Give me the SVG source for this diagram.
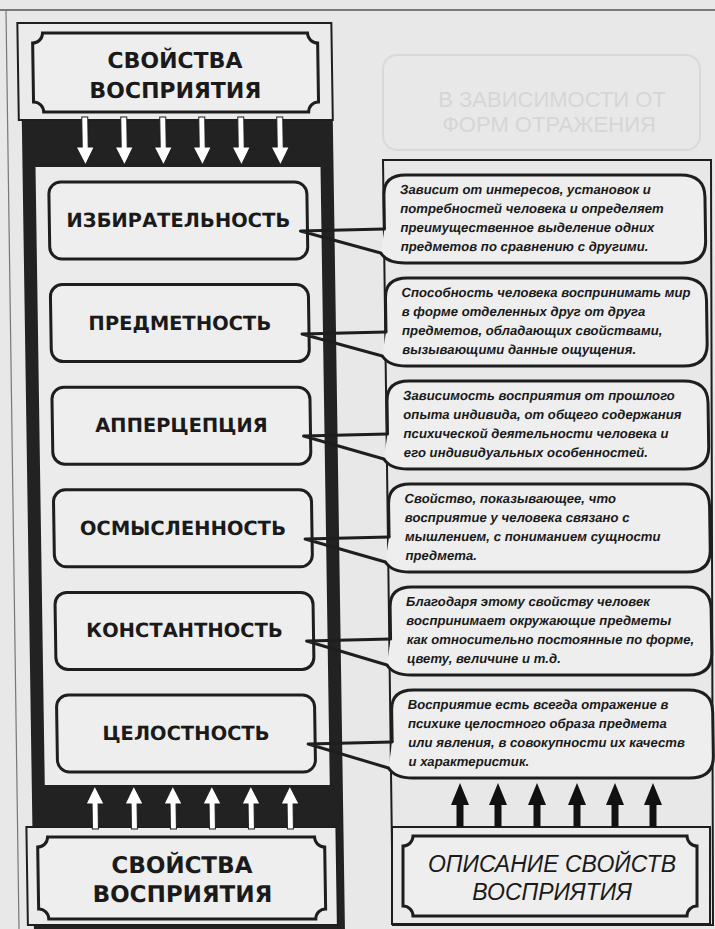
<svg xmlns="http://www.w3.org/2000/svg" width="715" height="929" viewBox="0 0 715 929">
<style>
.ln{fill:none;stroke:#1e1e1e;stroke-width:3;stroke-linejoin:round;stroke-linecap:round}
.box{fill:#eeeeee;stroke:#1e1e1e;stroke-width:3}
.outer{fill:#ebebeb;stroke:#1e1e1e;stroke-width:2}
.bub{fill:#eeeeee;stroke:#1e1e1e;stroke-width:3;stroke-linejoin:round}
.title{font-family:"DejaVu Sans","Liberation Sans",sans-serif;font-weight:bold;font-size:22px;fill:#1a1a1a;text-anchor:middle}
.lbl{font-family:"DejaVu Sans","Liberation Sans",sans-serif;font-weight:bold;font-size:19.5px;fill:#1a1a1a;text-anchor:middle}
.desc{font-family:"Liberation Sans",Arial,sans-serif;font-style:italic;font-weight:bold;font-size:13.2px;fill:#1a1a1a}
.ital{font-family:"Liberation Sans",Arial,sans-serif;font-style:italic;font-size:23px;fill:#1a1a1a;text-anchor:middle}
.ghost{font-family:"Liberation Sans",Arial,sans-serif;font-size:22px;fill:#d6d6d6;text-anchor:middle}
.wa{fill:#ffffff;stroke:#1e1e1e;stroke-width:1}
.ba{fill:#111111}
</style>
<defs>
<path id="arrow-down" d="M-3,0 H3 V30 H9 L0,48 L-9,30 H-3 Z"/>
<path id="arrow-up" d="M-3,0 H3 V-25 H9 L0,-43 L-9,-25 H-3 Z"/>
<path id="arrow-up-black" d="M-3.5,0 H3.5 V-22 H9 L0,-44 L-9,-22 H-3.5 Z"/>
</defs>
<rect x="0" y="0" width="715" height="929" fill="#e8e8e8"/>
<g id="page-lines">
<line x1="0" y1="10" x2="715" y2="10" stroke="#555" stroke-width="1.5"/>
<line x1="6" y1="10" x2="19" y2="929" stroke="#777" stroke-width="1.2"/>
</g>
<g id="ghost">
<rect x="383" y="55" width="317" height="95" rx="14" fill="none" stroke="#d9d9d9" stroke-width="2"/>
<text class="ghost" x="552" y="107">В ЗАВИСИМОСТИ ОТ</text>
<text class="ghost" x="549" y="132">ФОРМ ОТРАЖЕНИЯ</text>
</g>
<g id="description-column">
<polygon points="383,160 711,160 713,925 393,925" fill="none" stroke="#1e1e1e" stroke-width="2"/>
</g>
<g transform="matrix(1 0 0.015 1 -7 0)">
<g id="frame">
<rect x="27" y="120" width="311" height="809" fill="#222222"/>
<rect x="40" y="167" width="285" height="618" fill="#ebebeb"/>
</g>
<g id="top-box">
<rect class="outer" x="24" y="23" width="314" height="97"/>
<path class="box" d="M49,33 H314 A10 10 0 0 0 324,43 V102 A10 10 0 0 0 314,112 H49 A10 10 0 0 0 39,102 V43 A10 10 0 0 0 49,33 Z"/>
<text class="title" x="181" y="68">СВОЙСТВА</text>
<text class="title" x="181" y="98">ВОСПРИЯТИЯ</text>
</g>
<g id="top-arrows">
<use href="#arrow-down" class="wa" transform="translate(90,117)"/>
<use href="#arrow-down" class="wa" transform="translate(129,117)"/>
<use href="#arrow-down" class="wa" transform="translate(168,117)"/>
<use href="#arrow-down" class="wa" transform="translate(207,117)"/>
<use href="#arrow-down" class="wa" transform="translate(246,117)"/>
<use href="#arrow-down" class="wa" transform="translate(285,117)"/>
</g>
<g id="prop-1"><rect class="box" x="53" y="182" width="258" height="77" rx="12"/><text class="lbl" x="182" y="227">ИЗБИРАТЕЛЬНОСТЬ</text></g>
<g id="prop-2"><rect class="box" x="53" y="284.6" width="258" height="77" rx="12"/><text class="lbl" x="182" y="329.6">ПРЕДМЕТНОСТЬ</text></g>
<g id="prop-3"><rect class="box" x="53" y="387.2" width="258" height="77" rx="12"/><text class="lbl" x="182" y="432.2">АППЕРЦЕПЦИЯ</text></g>
<g id="prop-4"><rect class="box" x="53" y="489.8" width="258" height="77" rx="12"/><text class="lbl" x="182" y="534.8">ОСМЫСЛЕННОСТЬ</text></g>
<g id="prop-5"><rect class="box" x="53" y="592.4" width="258" height="77" rx="12"/><text class="lbl" x="182" y="637.4">КОНСТАНТНОСТЬ</text></g>
<g id="prop-6"><rect class="box" x="53" y="695" width="258" height="77" rx="12"/><text class="lbl" x="182" y="740">ЦЕЛОСТНОСТЬ</text></g>
<g id="bottom-box">
<rect class="outer" x="21" y="827" width="310" height="98"/>
<path class="box" d="M42,837 H309 A10 10 0 0 0 319,847 V909 A10 10 0 0 0 309,919 H42 A10 10 0 0 0 32,909 V847 A10 10 0 0 0 42,837 Z"/>
<text class="title" x="176" y="873" style="font-size:23px">СВОЙСТВА</text>
<text class="title" x="176" y="902" style="font-size:23px">ВОСПРИЯТИЯ</text>
</g>
<g id="bottom-arrows">
<use href="#arrow-up" class="wa" transform="translate(90,829)"/>
<use href="#arrow-up" class="wa" transform="translate(129,829)"/>
<use href="#arrow-up" class="wa" transform="translate(168,829)"/>
<use href="#arrow-up" class="wa" transform="translate(207,829)"/>
<use href="#arrow-up" class="wa" transform="translate(246,829)"/>
<use href="#arrow-up" class="wa" transform="translate(285,829)"/>
</g>
<g id="desc-1">
<path class="bub" d="M388,229 V195 Q388,175 410,175 H685 Q709,175 709,197 V241 Q709,263 685,263 H408 Q390,263 384,253"/>
<text class="desc" x="404" y="194">Зависит от интересов, установок и</text>
<text class="desc" x="404" y="213">потребностей человека и определяет</text>
<text class="desc" x="404" y="232">преимущественное выделение одних</text>
<text class="desc" x="404" y="251">предметов по сравнению с другими.</text>
</g>
<g id="desc-2">
<path class="bub" d="M388,332 V298 Q388,278 410,278 H685 Q709,278 709,300 V344 Q709,366 685,366 H408 Q390,366 384,356"/>
<text class="desc" x="404" y="297">Способность человека воспринимать мир</text>
<text class="desc" x="404" y="316">в форме отделенных друг от друга</text>
<text class="desc" x="404" y="335">предметов, обладающих свойствами,</text>
<text class="desc" x="404" y="354">вызывающими данные ощущения.</text>
</g>
<g id="desc-3">
<path class="bub" d="M388,434 V401 Q388,381 410,381 H685 Q709,381 709,403 V447 Q709,469 685,469 H408 Q390,469 384,459"/>
<text class="desc" x="404" y="400">Зависимость восприятия от прошлого</text>
<text class="desc" x="404" y="419">опыта индивида, от общего содержания</text>
<text class="desc" x="404" y="438">психической деятельности человека и</text>
<text class="desc" x="404" y="457">его индивидуальных особенностей.</text>
</g>
<g id="desc-4">
<path class="bub" d="M388,537 V504 Q388,484 410,484 H685 Q709,484 709,506 V550 Q709,572 685,572 H408 Q390,572 384,562"/>
<text class="desc" x="404" y="503">Свойство, показывающее, что</text>
<text class="desc" x="404" y="522">восприятие у человека связано с</text>
<text class="desc" x="404" y="541">мышлением, с пониманием сущности</text>
<text class="desc" x="404" y="560">предмета.</text>
</g>
<g id="desc-5">
<path class="bub" d="M388,639 V607 Q388,587 410,587 H685 Q709,587 709,609 V653 Q709,675 685,675 H408 Q390,675 384,665"/>
<text class="desc" x="404" y="606">Благодаря этому свойству человек</text>
<text class="desc" x="404" y="625">воспринимает окружающие предметы</text>
<text class="desc" x="404" y="644">как относительно постоянные по форме,</text>
<text class="desc" x="404" y="663">цвету, величине и т.д.</text>
</g>
<g id="desc-6">
<path class="bub" d="M388,742 V710 Q388,690 410,690 H685 Q709,690 709,712 V756 Q709,778 685,778 H408 Q390,778 384,768"/>
<text class="desc" x="404" y="709">Восприятие есть всегда отражение в</text>
<text class="desc" x="404" y="728">психике целостного образа предмета</text>
<text class="desc" x="404" y="747">или явления, в совокупности их качеств</text>
<text class="desc" x="404" y="766">и характеристик.</text>
</g>
<g id="connectors" class="ln">
<path d="M388,229 L304,231 L384,253"/>
<path d="M388,332 L304,334 L384,356"/>
<path d="M388,434 L304,436 L384,459"/>
<path d="M388,537 L304,539 L384,562"/>
<path d="M388,639 L304,641 L384,665"/>
<path d="M388,742 L304,744 L384,768"/>
</g>
</g>
<g id="desc-title">
<rect class="outer" x="392" y="827" width="318" height="97"/>
<path class="box" d="M413,836 H687 A10 10 0 0 0 697,846 V906 A10 10 0 0 0 687,916 H413 A10 10 0 0 0 403,906 V846 A10 10 0 0 0 413,836 Z"/>
<text class="ital" x="552" y="872">ОПИСАНИЕ СВОЙСТВ</text>
<text class="ital" x="552" y="900">ВОСПРИЯТИЯ</text>
</g>
<g id="desc-arrows" class="ba">
<use href="#arrow-up-black" transform="translate(460,827)"/>
<use href="#arrow-up-black" transform="translate(498,827)"/>
<use href="#arrow-up-black" transform="translate(537,827)"/>
<use href="#arrow-up-black" transform="translate(577,827)"/>
<use href="#arrow-up-black" transform="translate(615,827)"/>
<use href="#arrow-up-black" transform="translate(653,827)"/>
</g>
</svg>
